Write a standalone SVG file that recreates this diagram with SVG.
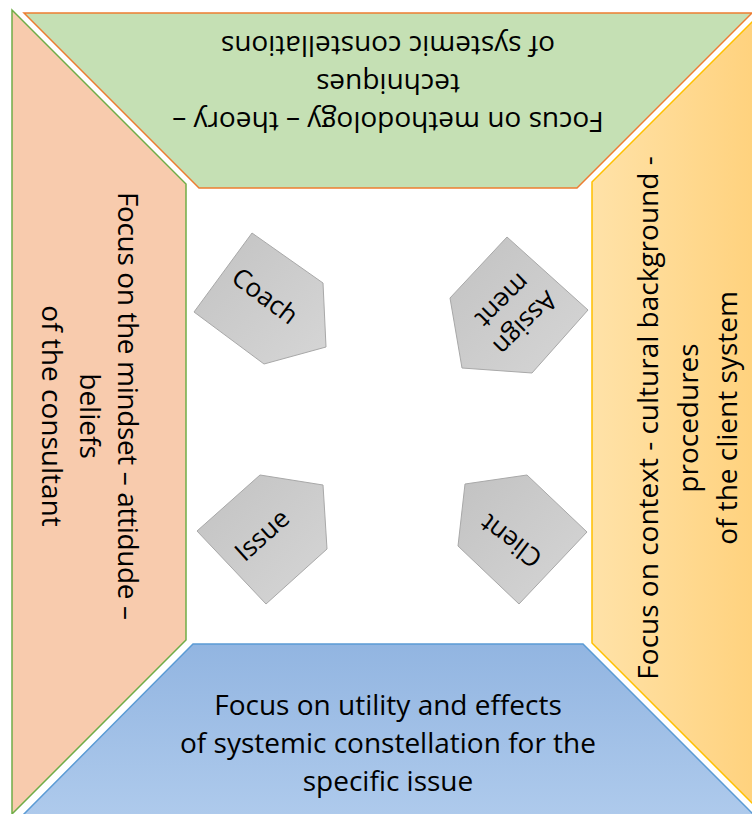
<svg xmlns="http://www.w3.org/2000/svg" width="752" height="814" viewBox="0 0 752 814">
<defs>
<linearGradient id="gBlue" x1="0" y1="0" x2="0" y2="1">
<stop offset="0" stop-color="#92B5E1"/>
<stop offset="1" stop-color="#AECAEC"/>
</linearGradient>
<linearGradient id="gGold" x1="0" y1="0" x2="1" y2="0">
<stop offset="0" stop-color="#FFE2A8"/>
<stop offset="1" stop-color="#FFD27E"/>
</linearGradient>
<linearGradient id="gGray" x1="0" y1="0" x2="1" y2="1">
<stop offset="0" stop-color="#C2C2C2"/>
<stop offset="1" stop-color="#D6D6D6"/>
</linearGradient>
<style>
.lbl{font-family:"Open Sans","Noto Sans","Liberation Sans",sans-serif;font-size:28px;fill:#000;text-anchor:middle}
.pl{font-family:"Open Sans","Noto Sans","Liberation Sans",sans-serif;font-size:26px;fill:#000;text-anchor:middle}
.pent{fill:url(#gGray);stroke:#A8A8A8;stroke-width:1}
</style>
</defs>
<rect width="752" height="814" fill="#FFFFFF"/>

<g id="panel-top">
<polygon points="24,13 752,13 577,188 199,188" fill="#C5E0B4" stroke="#ED7D31" stroke-width="1.5"/>
<g transform="translate(388,112) rotate(180)">
<text class="lbl" x="0" y="0">Focus on methodology – theory –</text>
<text class="lbl" x="0" y="38">techniques</text>
<text class="lbl" x="0" y="76">of systemic constellations</text>
</g>
</g>

<g id="panel-left">
<polygon points="12,10 186,184 186,640 12,814" fill="#F8CBAD" stroke="#70AD47" stroke-width="1.5"/>
<g transform="translate(118,416) rotate(90)">
<text class="lbl" x="-10" y="0" textLength="428" lengthAdjust="spacing">Focus on the mindset – attidude –</text>
<text class="lbl" x="0" y="38">beliefs</text>
<text class="lbl" x="0" y="76">of the consultant</text>
</g>
</g>

<g id="panel-right">
<polygon points="592,182 753,21 753,804 592,643" fill="url(#gGold)" stroke="#FFC000" stroke-width="1.5"/>
<g transform="translate(658,418) rotate(-90)">
<text class="lbl" x="0" y="0">Focus on context - cultural background -</text>
<text class="lbl" x="0" y="40">procedures</text>
<text class="lbl" x="0" y="79">of the client system</text>
</g>
</g>

<g id="panel-bottom">
<polygon points="193,644 583,644 754,815 23,815" fill="url(#gBlue)" stroke="#5B9BD5" stroke-width="1.5"/>
<text class="lbl" x="388" y="715">Focus on utility and effects</text>
<text class="lbl" x="388" y="753">of systemic constellation for the</text>
<text class="lbl" x="388" y="791">specific issue</text>
</g>

<g id="node-coach">
<polygon class="pent" points="252,233 323,283 326,347 264,364 194,312"/>
<text class="pl" transform="translate(265,296) rotate(37)" x="0" y="9">Coach</text>
</g>

<g id="node-assignment">
<polygon class="pent" points="507,237 588,310 532,373 462,368 450,298"/>
<g transform="translate(514,312) rotate(135)">
<text class="pl" x="0" y="-7">Assign</text>
<text class="pl" x="0" y="25">ment</text>
</g>
</g>

<g id="node-issue">
<polygon class="pent" points="260,475 323,485 327,549 266,604 197,531"/>
<text class="pl" transform="translate(262,535) rotate(-42)" x="0" y="9">Issue</text>
</g>

<g id="node-client">
<polygon class="pent" points="465,484 527,475 587,532 519,604 458,546"/>
<text class="pl" transform="translate(511,541) rotate(217)" x="0" y="9">Client</text>
</g>

<g id="connectors"></g>
</svg>
